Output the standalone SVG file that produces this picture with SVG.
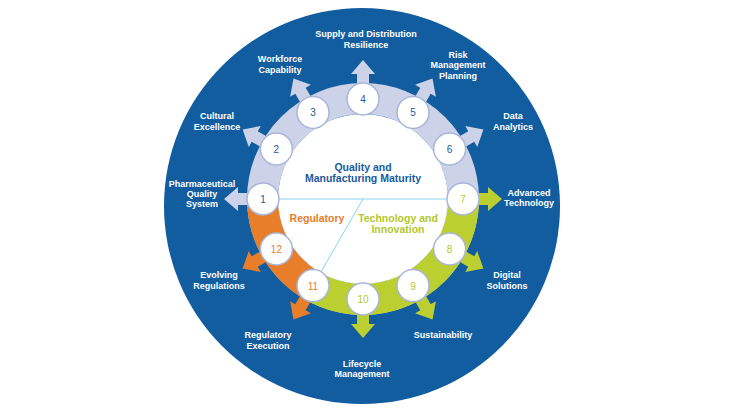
<svg xmlns="http://www.w3.org/2000/svg" width="750" height="420" viewBox="0 0 750 420">
<style>
.lbl{font-family:"Liberation Sans",Arial,sans-serif;font-weight:bold;font-size:9px;fill:#ffffff;text-anchor:middle}
.num{font-family:"Liberation Sans",Arial,sans-serif;font-size:10px;text-anchor:middle}
.ttl{font-family:"Liberation Sans",Arial,sans-serif;font-weight:bold;font-size:10.5px;text-anchor:middle}
.nc{fill:#ffffff;stroke:#a9b5d8;stroke-width:1.5}
.b{fill:#1a5a9e}.g{fill:#b3c72e}.o{fill:#e67e2a}
</style>
<defs>
<path id="arr" d="M-6,-110 L-6,-125 L-12,-125 L0,-139 L12,-125 L6,-125 L6,-110 Z"/>
</defs>
<rect width="750" height="420" fill="#ffffff"/>
<circle cx="362" cy="206" r="198" fill="#125da0"/>
<g id="arrows">
<use href="#arr" transform="translate(363,199) rotate(-90)" fill="#ccd3e8"/>
<use href="#arr" transform="translate(363,199) rotate(-60)" fill="#ccd3e8"/>
<use href="#arr" transform="translate(363,199) rotate(-30)" fill="#ccd3e8"/>
<use href="#arr" transform="translate(363,199) rotate(0)" fill="#ccd3e8"/>
<use href="#arr" transform="translate(363,199) rotate(30)" fill="#ccd3e8"/>
<use href="#arr" transform="translate(363,199) rotate(60)" fill="#ccd3e8"/>
<use href="#arr" transform="translate(363,199) rotate(90)" fill="#bccf31"/>
<use href="#arr" transform="translate(363,199) rotate(120)" fill="#bccf31"/>
<use href="#arr" transform="translate(363,199) rotate(150)" fill="#bccf31"/>
<use href="#arr" transform="translate(363,199) rotate(180)" fill="#bccf31"/>
<use href="#arr" transform="translate(363,199) rotate(210)" fill="#e87d2a"/>
<use href="#arr" transform="translate(363,199) rotate(240)" fill="#e87d2a"/>
</g>
<g id="ring">
<circle cx="363" cy="199" r="100.5" fill="none" stroke="#ccd3e8" stroke-width="31"/>
<path d="M463.5,199 A100.5,100.5 0 0 1 312.75,286.04" fill="none" stroke="#bccf31" stroke-width="31"/>
<path d="M312.75,286.04 A100.5,100.5 0 0 1 262.5,199" fill="none" stroke="#e87d2a" stroke-width="31"/>
<circle cx="363" cy="199" r="85" fill="#ffffff"/>
<line x1="278" y1="199" x2="448" y2="199" stroke="#86d4ec" stroke-width="1"/>
<line x1="363" y1="199" x2="320.5" y2="272.6" stroke="#86d4ec" stroke-width="1"/>
</g>
<g id="center">
<text class="ttl b" x="363" y="171">Quality and</text>
<text class="ttl b" x="363" y="182">Manufacturing Maturity</text>
<text class="ttl o" x="317" y="222">Regulatory</text>
<text class="ttl g" x="398" y="222">Technology and</text>
<text class="ttl g" x="398" y="233">Innovation</text>
</g>
<g id="nodes">
<g id="n1"><circle class="nc" cx="263" cy="199" r="16"/><text class="num b" x="263" y="203">1</text></g>
<g id="n2"><circle class="nc" cx="276.4" cy="149" r="16"/><text class="num b" x="276.4" y="153">2</text></g>
<g id="n3"><circle class="nc" cx="313" cy="112.4" r="16"/><text class="num b" x="313" y="116.4">3</text></g>
<g id="n4"><circle class="nc" cx="363" cy="99" r="16"/><text class="num b" x="363" y="103">4</text></g>
<g id="n5"><circle class="nc" cx="413" cy="112.4" r="16"/><text class="num b" x="413" y="116.4">5</text></g>
<g id="n6"><circle class="nc" cx="449.6" cy="149" r="16"/><text class="num b" x="449.6" y="153">6</text></g>
<g id="n7"><circle class="nc" cx="463" cy="199" r="16"/><text class="num g" x="463" y="203">7</text></g>
<g id="n8"><circle class="nc" cx="449.6" cy="249" r="16"/><text class="num g" x="449.6" y="253">8</text></g>
<g id="n9"><circle class="nc" cx="413" cy="285.6" r="16"/><text class="num g" x="413" y="289.6">9</text></g>
<g id="n10"><circle class="nc" cx="363" cy="299" r="16"/><text class="num g" x="363" y="303">10</text></g>
<g id="n11"><circle class="nc" cx="313" cy="285.6" r="16"/><text class="num o" x="313" y="289.6">11</text></g>
<g id="n12"><circle class="nc" cx="276.4" cy="249" r="16"/><text class="num o" x="276.4" y="253">12</text></g>
</g>
<g id="labels">
<text class="lbl" x="366" y="37">Supply and Distribution</text>
<text class="lbl" x="366" y="48">Resilience</text>
<text class="lbl" x="280" y="62">Workforce</text>
<text class="lbl" x="280" y="73">Capability</text>
<text class="lbl" x="458" y="58">Risk</text>
<text class="lbl" x="458" y="68">Management</text>
<text class="lbl" x="458" y="79">Planning</text>
<text class="lbl" x="217" y="119">Cultural</text>
<text class="lbl" x="217" y="130">Excellence</text>
<text class="lbl" x="513" y="119">Data</text>
<text class="lbl" x="513" y="130">Analytics</text>
<text class="lbl" x="202" y="187">Pharmaceutical</text>
<text class="lbl" x="202" y="197">Quality</text>
<text class="lbl" x="202" y="207">System</text>
<text class="lbl" x="529" y="196">Advanced</text>
<text class="lbl" x="529" y="206">Technology</text>
<text class="lbl" x="219" y="278">Evolving</text>
<text class="lbl" x="219" y="289">Regulations</text>
<text class="lbl" x="507" y="278">Digital</text>
<text class="lbl" x="507" y="289">Solutions</text>
<text class="lbl" x="268" y="338">Regulatory</text>
<text class="lbl" x="268" y="349">Execution</text>
<text class="lbl" x="443" y="338">Sustainability</text>
<text class="lbl" x="362" y="367">Lifecycle</text>
<text class="lbl" x="362" y="377">Management</text>
</g>
</svg>
